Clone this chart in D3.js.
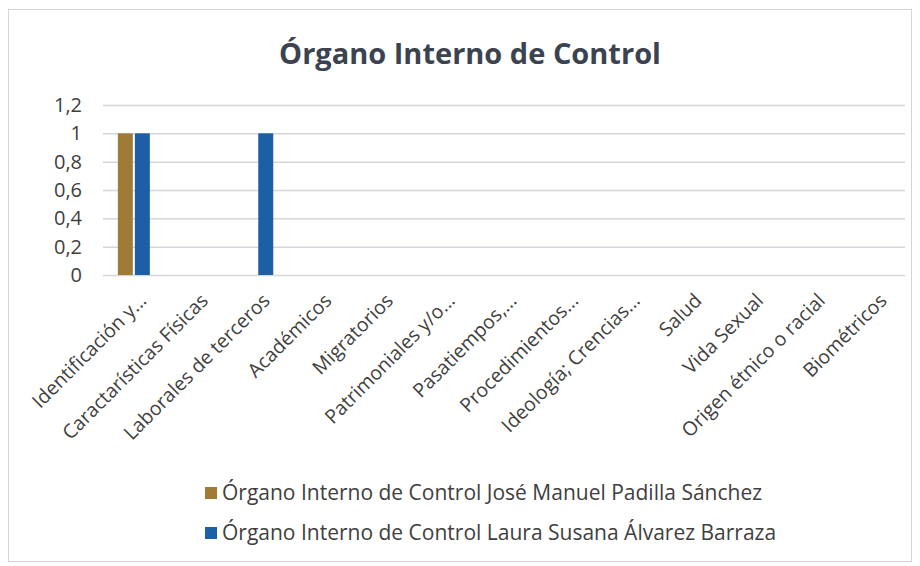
<!DOCTYPE html>
<html>
<head>
<meta charset="utf-8">
<script src="https://cdn.jsdelivr.net/npm/d3@7"></script>
<style>
  body { margin: 0; background: #fff; }
  text { font-family: "Open Sans", "Noto Sans", sans-serif; }
</style>
</head>
<body>
<div id="chart"></div>
<script>
const categories = [
  "Identificación y...", "Caractarísticas Físicas", "Laborales de terceros",
  "Académicos", "Migratorios", "Patrimoniales y/o...", "Pasatiempos,...",
  "Procedimientos...", "Ideología; Crencias...", "Salud", "Vida Sexual",
  "Origen étnico o racial", "Biométricos"
]
const seriesNames = [
  "Órgano Interno de Control José Manuel Padilla Sánchez",
  "Órgano Interno de Control Laura Susana Álvarez Barraza"
]
const joseValues = [1, 0, 0, 0, 0, 0, 0, 0, 0, 0, 0, 0, 0]
const lauraValues = [1, 0, 1, 0, 0, 0, 0, 0, 0, 0, 0, 0, 0]
const yTicks = [0, 0.2, 0.4, 0.6, 0.8, 1, 1.2]
const colors = ["#a07b35", "#1d5fa6"]

const width = 920, height = 566
const margin = [105, 15, 292, 103] // top right bottom left

const series = [joseValues, lauraValues]

const svg = d3.select("#chart").append("svg")
  .attr("width", width).attr("height", height)
  .attr("viewBox", [0, 0, width, height])

// frame
svg.append("rect")
  .attr("x", 8.5).attr("y", 9.5)
  .attr("width", width - 17).attr("height", height - 14)
  .attr("fill", "#fff").attr("stroke", "#d4d4d4")

const x0 = d3.scaleBand().domain(categories)
  .range([margin[3], width - margin[1]])
  .paddingInner(0).paddingOuter(0)
const x1 = d3.scaleBand().domain(d3.range(series.length))
  .range([x0.bandwidth() / 2 - 16, x0.bandwidth() / 2 + 16])
  .paddingInner(0.12)
const y = d3.scaleLinear().domain([0, 1.2])
  .range([height - margin[2] + 1, margin[0]])

// grid + y labels
const yAxis = d3.axisLeft(y).tickValues(yTicks)
  .tickFormat(d => String(d).replace(".", ","))
  .tickSize(0).tickPadding(21)
svg.append("g")
  .attr("transform", `translate(${margin[3]},0)`)
  .call(yAxis)
  .call(g => g.select(".domain").remove())
  .call(g => g.selectAll(".tick line")
    .attr("x2", width - margin[1] - margin[3])
    .attr("stroke", "#d6d6dc").attr("stroke-width", 1.5))
  .call(g => g.selectAll(".tick text")
    .attr("fill", "#404040").style("font-size", "20px"))

// bars
const groups = svg.append("g").selectAll("g")
  .data(series).join("g")
  .attr("fill", (d, i) => colors[i])
groups.selectAll("rect")
  .data((vals, si) => vals.map((v, ci) => ({ v, ci, si })))
  .join("rect")
  .attr("x", d => x0(categories[d.ci]) + x1(d.si))
  .attr("width", x1.bandwidth())
  .attr("y", d => y(d.v))
  .attr("height", d => y(0) - y(d.v))

// x labels
const xAxis = d3.axisBottom(x0).tickSize(0).tickPadding(0)
svg.append("g")
  .attr("transform", `translate(0,${y(0)})`)
  .call(xAxis)
  .call(g => g.select(".domain").remove())
  .selectAll(".tick text")
  .attr("fill", "#404040")
  .style("font-size", "19.5px")
  .attr("text-anchor", "end")
  .attr("dy", "0.35em")
  .attr("transform", "translate(9,22) rotate(-45)")

// title
svg.append("text")
  .attr("x", 470).attr("y", 64)
  .attr("text-anchor", "middle")
  .attr("fill", "#3b4350")
  .style("font-size", "29px").style("font-weight", "bold")
  .text("Órgano Interno de Control")

// legend
const legend = svg.append("g").selectAll("g")
  .data(seriesNames).join("g")
  .attr("transform", (d, i) => `translate(205,${493 + i * 40})`)
legend.append("rect")
  .attr("x", 0).attr("y", -6).attr("width", 12).attr("height", 12)
  .attr("fill", (d, i) => colors[i])
legend.append("text")
  .attr("x", 17).attr("dy", "0.35em")
  .attr("fill", "#404040").style("font-size", "21px")
  .text(d => d)
</script>
</body>
</html>
